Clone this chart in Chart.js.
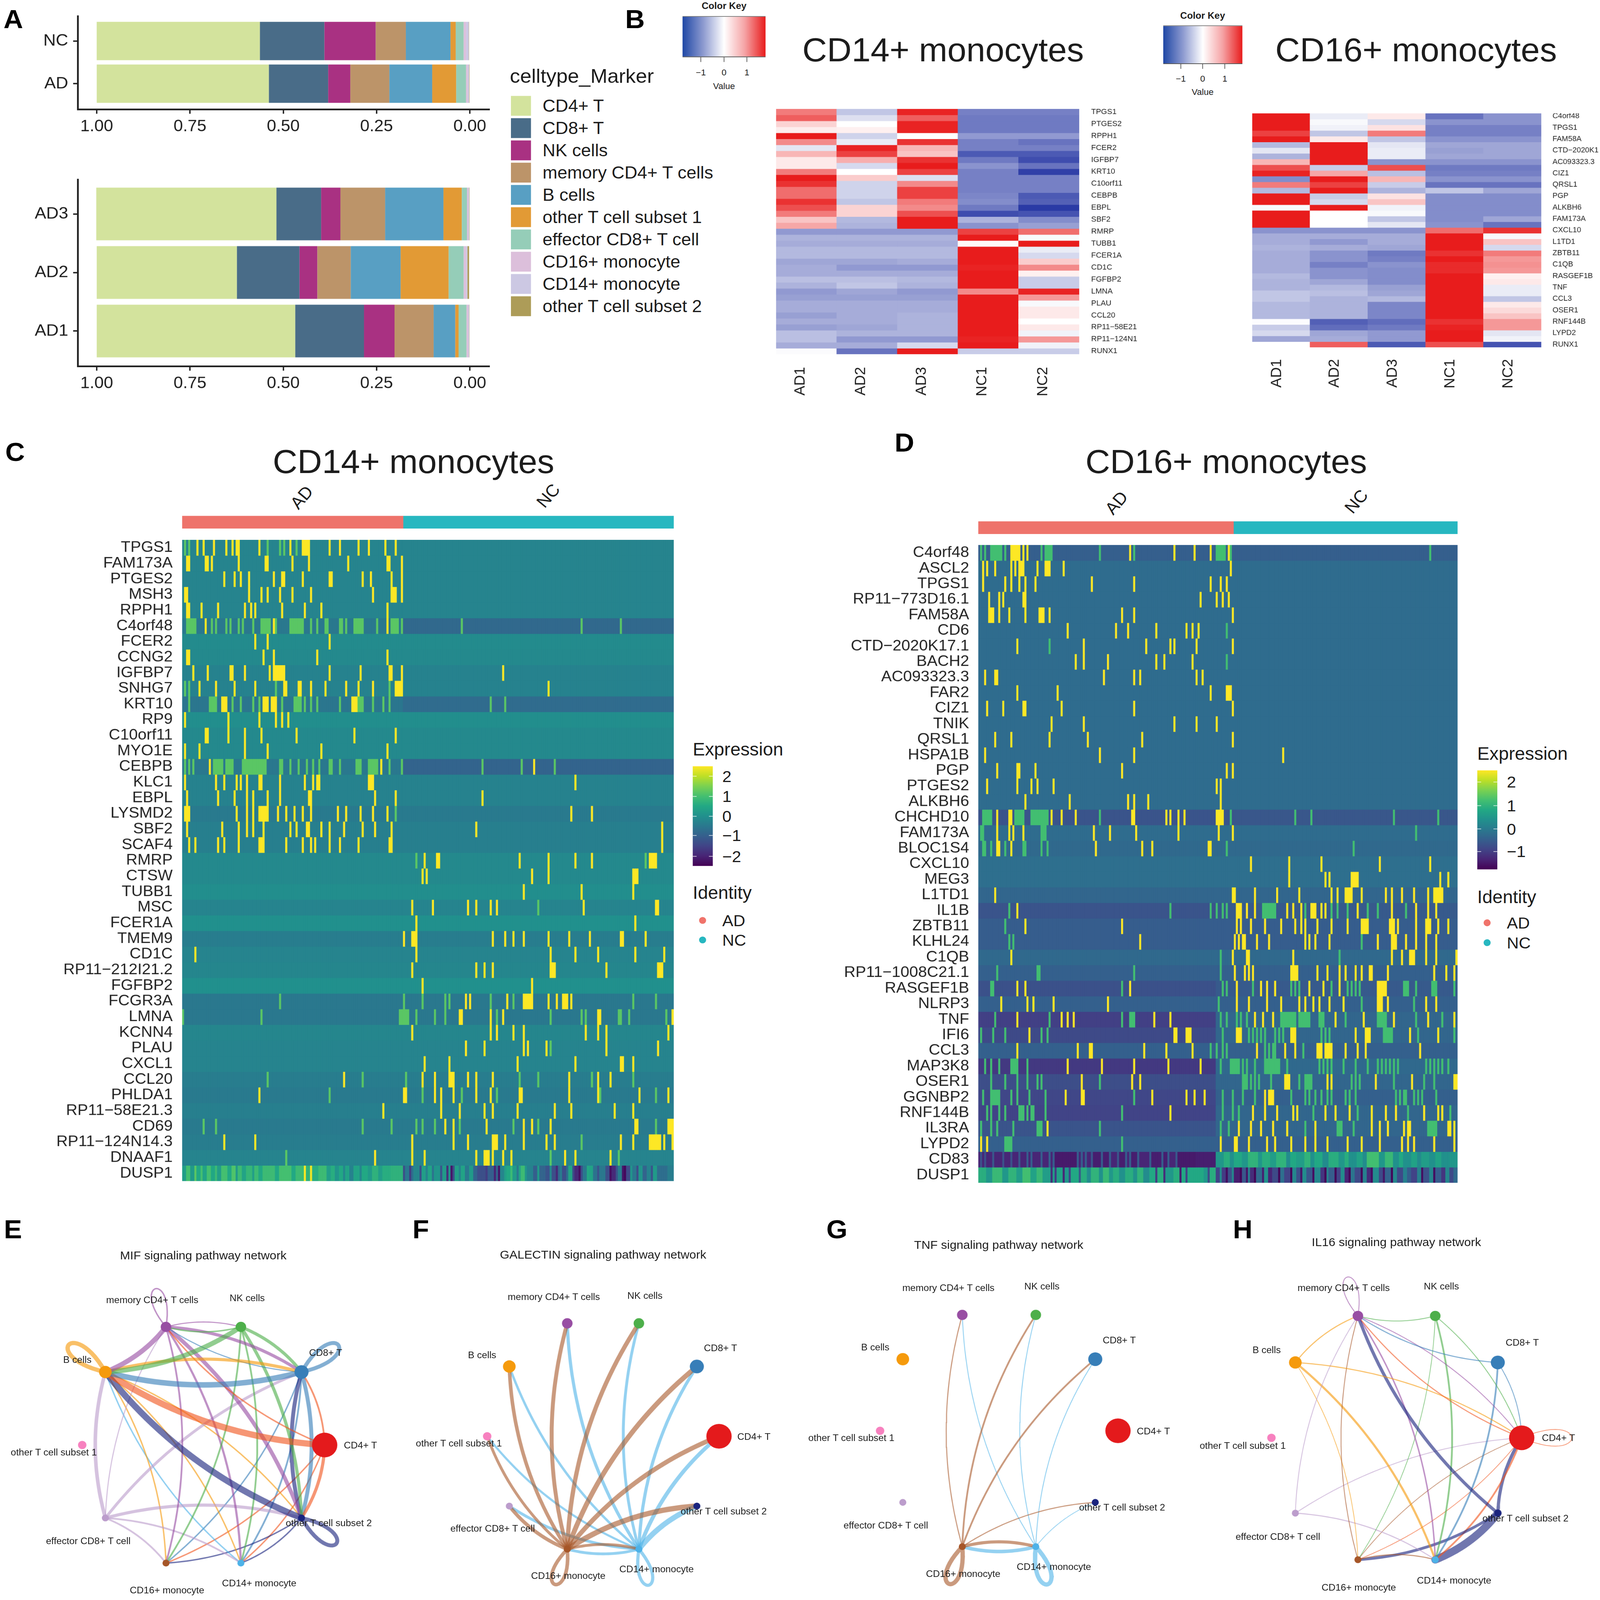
<!DOCTYPE html>
<html><head><meta charset="utf-8">
<style>
html,body{margin:0;padding:0;background:#fff;overflow:hidden}
#page{position:absolute;left:0;top:0;width:4550px;height:4671px;background:#fff;overflow:hidden;transform-origin:0 0;font-family:"Liberation Sans",Arial,sans-serif;color:#1c1c1c}
#page>div{position:absolute}
.t{white-space:nowrap;line-height:1}
</style>
<script src="https://cdn.jsdelivr.net/npm/chart.js"></script>
</head><body><div id="page"></div>
<script>
/* ---------- Panel A data ---------- */
const cellTypes=['CD4+ T','CD8+ T','NK cells','memory CD4+ T cells','B cells','other T cell subset 1','effector CD8+ T cell','CD16+ monocyte','CD14+ monocyte','other T cell subset 2'];
const cellColors=['#d3e39d','#496c88','#a93182','#bc9469','#589fc3','#e29a35','#95cdb8','#dcbfdb','#ccc8e3','#ad9c58'];
const shareNC=[43.76,17.28,13.75,8.07,11.98,1.39,2.14,.63,.76,.25];
const shareAD=[46.15,15.89,5.93,10.47,11.48,6.43,2.65,.5,.4,.1];
const shareAD3=[48.29,11.98,5.17,11.98,15.64,4.92,1.39,.4,.25,.1];
const shareAD2=[37.58,16.77,4.79,8.95,13.37,12.86,4.04,.63,.38,.63];
const shareAD1=[53.22,18.41,8.2,10.47,5.8,.88,2.14,.5,.25,.13];
const shareTicks=[1,.75,.5,.25,0];

/* ---------- Panel B data ---------- */
const sampleNames=['AD1','AD2','AD3','NC1','NC2'];
const bLeftGenes=['TPGS1','PTGES2','RPPH1','FCER2','IGFBP7','KRT10','C10orf11','CEBPB','EBPL','SBF2','RMRP','TUBB1','FCER1A','CD1C','FGFBP2','LMNA','PLAU','CCL20','RP11−58E21','RP11−124N1','RUNX1'];
const bRightGenes=['C4orf48','TPGS1','FAM58A','CTD−2020K1','AC093323.3','CIZ1','QRSL1','PGP','ALKBH6','FAM173A','CXCL10','L1TD1','ZBTB11','C1QB','RASGEF1B','TNF','CCL3','OSER1','RNF144B','LYPD2','RUNX1'];
const bLeftValues=[[.9,-.45,1.5,-1,-1],[1.1,-.25,1.1,-1.05,-1.05],[.3,0,1.5,-1.05,-1.05],[.12,.1,1.5,-1.05,-1.05],[1.8,-.35,0,-.8,-.8],[.8,-.15,1.4,-1,-1.1],[-.2,1.5,.5,-1,-1],[.5,1.3,.4,-1.3,-1.3],[.15,.55,1.4,-1.05,-1.4],[.15,-.3,1.6,-.85,-1.1],[.9,0,1.3,-1,-1.5],[1.6,.35,-.25,-1,-1],[1.4,-.35,.8,-1,-1],[1,-.35,1.3,-1,-1],[1,-.35,1.3,-.95,-1.3],[1.4,-.45,.9,-.9,-1.25],[1.2,.3,.8,-1.05,-1.6],[.9,.3,1.2,-1.4,-1.35],[.4,-.55,1.6,-.6,-.9],[.6,-.6,1.6,-.85,-.75],[-.8,-.8,-.8,1.3,1],[-.6,-.6,-.6,1.7,-.05],[-.65,-.65,-.65,.05,1.8],[-.55,-.55,-.55,1.8,-.15],[-.55,-.55,-.55,1.8,-.3],[-.7,-.7,-.65,1.8,.35],[-.65,-.8,-.8,1.5,.8],[-.65,-.65,-.65,1.7,.1],[-.5,-.5,-.55,1.8,-.4],[-.6,-.45,-.6,1.8,-.4],[-.8,-.7,-.8,.8,1.5],[-.75,-.75,-.75,1.6,.7],[-.65,-.65,-.65,1.7,-.05],[-.65,-.65,-.65,1.7,.15],[-.75,-.65,-.6,1.7,.15],[-.65,-.65,-.6,1.7,0],[-.75,-.7,-.6,1.7,.15],[-.5,-.6,-.6,1.7,-.1],[-.5,-.8,-.8,1.5,.7],[-.65,-.65,-.3,1.7,-.1],[-.03,-1.1,1.8,-.4,-.4]];
const bRightValues=[[1.7,-.15,.15,-1.1,-.85],[1.7,-.05,-.3,-.85,-.85],[1.7,-.1,.2,-1,-1],[1.3,-.45,.9,-1,-1],[1.6,.15,-.45,-.85,-.85],[-.55,1.8,-.2,-.7,-.7],[-.2,1.8,-.15,-.75,-.7],[-.6,1.8,-.15,-.7,-.7],[.5,1.6,-.85,-.85,-.85],[1.2,-.4,1.2,-1.05,-1.05],[1.5,.6,-.5,-1,-1],[-.9,1.55,.5,-.85,-.85],[.9,1.3,-.4,-1.1,-1.1],[-.55,1.7,-.6,-.45,-.7],[1.65,-.4,.2,-.9,-.9],[1.65,-.3,.4,-.9,-.9],[-.05,1.75,-.1,-.9,-.9],[1.8,0,-.05,-.9,-.9],[1.8,0,-.45,-.9,-.7],[1.8,0,-.2,-.85,-1.1],[-.85,-.85,-.85,1,1.4],[-.65,-.65,-.65,1.8,-.05],[-.65,-.8,-.65,1.8,.4],[-.6,-.65,-.7,1.7,-.3],[-.65,-.85,-1.05,1.4,.9],[-.65,-.85,-1,1.55,.7],[-.65,-1,-.85,1.45,.75],[-.65,-.85,-.9,1.45,.7],[-.55,-.85,-.9,1.8,.1],[-.6,-.7,-.9,1.8,.15],[-.6,-.55,-.75,1.8,-.15],[-.45,-.5,-.7,1.8,-.15],[-.45,-.6,-.55,1.8,-.45],[-.55,-.6,-.95,1.8,.15],[-.55,-.6,-.95,1.8,.25],[-.55,-.6,-.95,1.75,.4],[-.02,-1.25,-1.15,1.4,.7],[-.4,-1.15,-1.05,1.5,.7],[-.3,-.7,-.8,1.7,-.2],[-.7,-.65,-.8,1.7,-.1],[0,1.1,-1.3,1.2,-1.35]];

/* ---------- Panel C data ---------- */
const cGenes=['TPGS1','FAM173A','PTGES2','MSH3','RPPH1','C4orf48','FCER2','CCNG2','IGFBP7','SNHG7','KRT10','RP9','C10orf11','MYO1E','CEBPB','KLC1','EBPL','LYSMD2','SBF2','SCAF4','RMRP','CTSW','TUBB1','MSC','FCER1A','TMEM9','CD1C','RP11−212I21.2','FGFBP2','FCGR3A','LMNA','KCNN4','PLAU','CXCL1','CCL20','PHLDA1','RP11−58E21.3','CD69','RP11−124N14.3','DNAAF1','DUSP1'];
const cGroupCells=[107,131];
const cBaseAD=[-.25,-.25,-.25,-.25,-.25,-.5,-.1,-.15,-.3,-.3,-.55,-.05,-.15,-.15,-.5,-.3,-.3,-.45,-.35,-.35,-.15,-.15,-.05,-.25,0,-.4,-.25,-.2,0,-.5,-.5,-.2,-.25,-.25,-.4,-.45,-.35,-.45,-.4,-.25,.7];
const cBaseNC=[-.25,-.25,-.25,-.25,-.25,-.8,-.1,-.15,-.3,-.3,-.75,-.05,-.15,-.15,-.9,-.3,-.3,-.45,-.35,-.35,-.15,-.15,-.05,-.25,0,-.4,-.25,-.2,0,-.5,-.5,-.2,-.25,-.25,-.4,-.45,-.35,-.45,-.4,-.25,-.5];
const cHot=[[7,10,15,21,24,26,27,37,52,58,59,60,61,71,76,85,90,98,103],[2,3,11,12,14,27,40,41,53,61,80,99,100,106],[20,25,28,32,44,48,49,58,71,72,87,91,101,106],[1,2,32,38,41,47,53,62,92,101,102,103,106],[2,3,9,17,30,33,35,48,59,67,99],[11,44,99],[35,41,71],[2,3,39,44,65,99],[5,12,23,24,30,42,44,45,46,47,48,49,71,86,100,101,106,155],[8,16,25,35,49,50,56,57,62,69,79,85,92,103,104,105,106,177],[19,20,21,39,40,41,43,44,45,82,83,84],[1,22,37,45,48,51],[11,12,22,30,38,55,83,103],[1,8,30,41,67,99],[13,96,170],[1,16,20,26,28,31,37,38,47,59,63,65,66,90,91,92,190],[2,17,25,31,34,41,47,61,62,93,103,145],[1,2,3,26,31,34,37,38,39,40,41,46,50,54,58,62,75,79,86,92,99,188,198],[2,19,27,31,34,39,52,55,60,61,67,71,78,87,93,101,142,232],[3,6,17,20,27,37,38,39,50,58,62,64,71,76,85,100,101,232],[117,123,124,163,177,190,198,226,227,228,229],[116,118,169,177,218,219,220],[165,193,218],[111,121,138,142,149,152,194,229,230],[113,219],[107,111,112,113,150,156,160,165,177,187,197,212,213,224],[6,113,178,190,201,219,233],[111,142,146,150,178,179,180,205,230,231,232],[116,169],[137,139,157,165,166,167,168,169,177,181,184,185,186,188],[134,135,149,155,201,202,237],[111,149,152,160,165,195,201,205,235],[137,146,165,167,176,205,230],[117,129,162,190,212,213,218],[78,116,122,129,130,131,138,142,150,187,201,207],[37,107,108,122,125,131,142,149,163,164,187,201,221,235],[97,125,134,146,150,162,180,188,209,218],[127,131,147,165,169,178,219,220,235,236,237],[20,35,111,131,138,150,151,152,156,165,176,180,212,218,226,227,228,229,230,231,233,237],[93,111,117,142,146,147,148,150,155,159,185,190,207],[]];
const cWarm=[[1,3,41,47,49,55],[],[],[],[],[2,3,4,5,6,14,16,21,23,27,29,34,38,39,40,41,42,45,52,53,54,55,56,57,58,62,65,69,70,76,77,79,83,84,85,86,87,94,101,102,103,104,106,135,193,212],[],[],[],[1,3,45,100],[3,13,14,15,16,24,28,34,37,48,54,55,56,57,59,62,65,76,85,86,87,92,97,100,149,156],[],[],[],[1,3,5,15,16,17,18,19,21,22,23,24,29,30,31,32,33,34,35,36,37,38,39,40,47,48,52,56,60,63,66,71,72,76,84,85,86,90,91,92,93,94,100,106,145,164,180],[],[],[103],[],[],[113,224],[],[],[172],[],[],[],[],[],[47,107,116,127,129,149,160,218,229],[0,38,105,106,107,108,109,113,122,127,152,178,193,195,211,212,216,234],[],[178],[],[41,87,108,163,172,198,218],[71,116,135,152,202,229],[],[10,16,87,101,113,116,122,134,160,172,229],[193],[50,178,211],[]];
const cDusp1AD=[[2,.3],[2,1],[2,.2],[1,1.2],[2,.5],[1,1],[2,.4],[2,1],[2,.5],[1,.9],[2,.3],[3,1],[2,.5],[2,1.1],[1,.2],[2,.9],[2,.4],[3,.8],[1,.3],[2,.9],[2,.5],[6,.9],[2,.5],[6,1],[2,.5],[4,.9],[1,2.5],[2,.7],[1,2.4],[3,.6],[4,.9],[2,.3],[2,.6],[2,.1],[2,.5],[1,-.2],[2,.4],[2,-.3],[3,.4],[1,-.2],[3,.5],[2,.2],[3,.7],[2,.3],[4,.6]];
const cDusp1NC=[[1,-1.3],[2,-.5],[1,-1.6],[1,-.7],[3,-.2],[1,-1.3],[2,.3],[1,-.3],[2,.4],[1,-.6],[3,.1],[1,-1.2],[2,.2],[1,-1.8],[1,.1],[1,-2.2],[1,-1.3],[2,.3],[1,-.3],[2,.4],[2,-.5],[2,.2],[2,-.9],[4,-1.3],[1,-1.6],[3,-1],[1,-2],[1,-.9],[1,-2.2],[2,-.2],[1,.3],[2,.5],[1,.9],[2,.2],[1,-.5],[1,.4],[2,.9],[1,.1],[3,-.3],[2,-1],[1,.2],[3,-.9],[2,-1.2],[1,-.2],[2,-1.3],[1,-1.9],[1,-.8],[1,-.4],[2,-1.3],[1,-.7],[2,.4],[1,-1.4],[2,-1.9],[1,-2.3],[1,-1.3],[2,-.5],[1,.5],[2,.4],[2,-.6],[1,-1.2],[3,-.5],[2,-1.3],[1,-2.3],[2,-1.9],[1,-1.2],[2,-.4],[1,-2.2],[1,-2.4],[2,-1.4],[1,.1],[2,-.5],[1,-1.3],[2,.1],[2,-.9],[2,-.3],[1,-1.2],[2,.2],[2,-.7],[3,-.7],[3,-.4]];

/* ---------- Panel D data ---------- */
const dGenes=['C4orf48','ASCL2','TPGS1','RP11−773D16.1','FAM58A','CD6','CTD−2020K17.1','BACH2','AC093323.3','FAR2','CIZ1','TNIK','QRSL1','HSPA1B','PGP','PTGES2','ALKBH6','CHCHD10','FAM173A','BLOC1S4','CXCL10','MEG3','L1TD1','IL1B','ZBTB11','KLHL24','C1QB','RP11−1008C21.1','RASGEF1B','NLRP3','TNF','IFI6','CCL3','MAP3K8','OSER1','GGNBP2','RNF144B','IL3RA','LYPD2','CD83','DUSP1'];
const dGroupCells=[127,111];
const dBaseAD=[-.47,-.25,-.25,-.25,-.25,-.25,-.25,-.25,-.25,-.25,-.25,-.25,-.25,-.25,-.25,-.25,-.25,-.65,-.25,-.3,-.2,-.2,-.35,-.65,-.5,-.5,-.3,-.45,-.7,-.45,-.95,-.8,-.45,-1.05,-.75,-.85,-.9,-.65,-.45,-1.4,.8];
const dBaseNC=[-.47,-.25,-.25,-.25,-.25,-.25,-.25,-.25,-.25,-.25,-.25,-.25,-.25,-.25,-.25,-.25,-.25,-.6,-.25,-.3,-.2,-.2,-.35,-.55,-.5,-.5,-.3,-.45,-.55,-.45,-.35,-.35,-.45,-.3,-.35,-.45,-.35,-.35,-.45,.6,-.6];
const dHot=[[16,17,18,19,20,22,24,75,97,107,115,124],[2,4,8,16,18,20,21,22,29,33,34,35,42,125],[2,13,16,20,23,28,56,77,115,120,123],[5,10,12,22,23,110,118,121,124],[5,6,7,10,15,23,30,31,32,35,71,77,126],[44,68,74,88,103,106,109],[19,52,83,95,97,108,126],[48,52,64,88,92,106],[3,8,9,62,77,80,108,111],[19,39,115,123,124,125],[4,12,22,23,41,77,126],[36,52,97,108,118],[8,16,35,54,81,126],[3,60,77,151],[9,19,20,28,71,123,126],[4,19,26,29,37,118,120],[23,45,74,77,84,120],[9,15,16,36,41,48,76,77,93,95,99,102,118,119,120,121],[9,15,17,22,57,65,78,99,119,126],[9,10,16,58,81,86,114,115],[135,154,170,199,224],[154,172,174,185,186,187,188,229,233],[8,126,127,137,148,159,175,178,182,183,184,185,190,202,205,210,216,223,226,227,228,229,230],[19,128,129,130,133,137,153,156,160,165,166,167,170,172,188,205,217,223,227],[23,71,128,130,135,142,150,157,160,162,168,175,183,190,191,192,193,204,205,206,208,217,222,223,224,228,233],[80,127,129,131,132,138,144,162,164,167,174,198,205,206,207,212,217,222,227],[16,126,133,134,156,205,210,214,215,216,222,227,237],[127,132,134,136,155,156,157,158,168,173,179,182,187,190,194,195,203,226,232,236],[19,23,75,128,140,143,147,164,171,179,198,199,200,201,202],[11,24,27,37,64,128,134,143,150,159,162,166,169,174,181,198,199,200,203,222,227],[19,41,44,47,87,95,137,141,146,177,191,206,223,236],[25,97,98,103,104,105,128,129,130,155,156,157,187,192,193,194,214,228],[19,49,55,56,82,93,106,138,152,157,168,169,170,172,173,174,175,182,188,192,219],[44,61,77,94,110],[51,76,80,152,153,154,173,175,197,215,236,237],[43,51,52,86,103,107,112,142,144,145,146],[95,136,142,148,156,158,172,177,184,195,202,207,221,228,230],[34,129,135,140,146,153,167,195,199,203,211,213,214,233,234,236],[1,4,120,127,128,134,143,147,155,162,167,173,183,190,199,210,213,216,226,236],[],[]];
const dWarm=[[1,3,6,7,8,9,10,11,13,31,33,34,35,36,60,77,118,119,120,121,122,125,224],[],[],[],[],[123],[35],[123],[],[],[],[],[],[],[],[],[],[2,3,4,5,6,18,19,20,21,22,26,27,28,29,30,31,32,33,34,60,125,157,165,206,228],[1,2,31,32,33,217],[2,3,6,13,22,23,31,34,123,186],[],[],[],[15,95,115,118,121,123,141,142,143,144,145,146,147,162,175,178,183,193,198,212],[13],[15,17,190],[120,179],[9,29,30,77,120],[6,7,71,121,123,136,155,157,159,175,183,185,187,189,211,212,213,217,225,226,227,236],[119,190,216],[8,35,71,75,76,77,120,123,128,130,133,150,151,152,153,154,155,156,157,159,160,161,162,163,164,169,170,171,182,198,199,200,201,202,217,230],[1,7,13,31,34,121,134,136,138,140,142,147,149,151,170,172,174,201,202,203,204,205,218,236],[115,118,121,123,142,144,146,147,161],[3,6,10,16,17,18,19,24,120,125,126,127,128,129,131,133,137,142,143,144,145,146,147,148,149,153,169,171,173,175,181,187,193,198,200,202,204,206,208,222,224,226,228,230,233],[6,13,19,24,29,31,60,131,132,133,135,137,139,145,159,162,163,164,165,185,187,189,206,221,226],[2,6,7,8,9,10,16,19,25,33,77,121,126,131,137,155,162,164,167,170,173,175,182,184,187,207,209,211,212,216,218,220,227],[4,6,10,13,20,21,22,24,26,27,33,71,121,126,129,166,188,213,234],[1,6,9,17,29,30,31,60,120,124,162,178,179,180,186,223,224,225,226,227],[13,14,15,16,71],[],[]];
const dCd83AD=[[1,-1.3],[1,-.7],[1,-1.3],[1,-.7],[3,-1.3],[1,-.6],[4,-1.3],[1,-.7],[3,-1.3],[1,-.7],[3,-1.3],[1,-.6],[3,-1.3],[1,-.5],[1,-1.3],[1,-.5],[4,-1.3],[1,-.5],[3,-1.3],[1,-.4],[1,-1.3],[1,-.5],[11,-1.45],[1,-.5],[1,-1.3],[1,-.5],[1,-1.3],[1,-.5],[2,-1.3],[1,-.6],[4,-1.4],[1,-.5],[3,-1.4],[1,-.5],[3,-1.3],[1,-.6],[3,-1.4],[1,-.5],[1,-1.3],[1,-.5],[3,-1.4],[1,-.5],[5,-1.3],[1,-.5],[5,-1.4],[1,-.5],[2,-1.4],[1,-.5],[3,-1.3],[1,-.6],[9,-1.45]];
const dCd83NC=[[4,.5],[3,.9],[2,.4],[4,.8],[3,.5],[5,1],[2,.5],[4,.9],[3,.6],[5,1],[2,.3],[3,.8],[4,.6],[3,1],[2,.4],[4,.8],[3,.3],[5,.9],[3,.5],[2,.9],[4,.4],[3,.7],[2,.3],[6,1.2],[3,.5],[4,1.1],[3,.4],[2,.8],[4,.4],[3,.7],[2,.3],[4,.6],[3,.4],[3,.7],[4,.4],[6,.5]];
const dDusp1AD=[[4,.9],[3,.5],[5,1.1],[3,.5],[4,1],[3,.6],[4,1.2],[3,.7],[3,1.1],[4,.6],[1,-1.2],[1,.6],[1,-1],[3,.7],[1,-1.3],[2,.5],[1,-.9],[4,.8],[1,-.6],[3,.9],[2,.3],[4,1],[2,.4],[3,1.1],[2,.5],[3,.9],[3,.4],[4,.9],[2,.4],[3,1],[3,.3],[3,.8],[1,-1],[3,.9],[1,-1.2],[4,.5],[3,.9],[1,-1.4],[2,.8],[1,-.9],[8,.8],[2,.5],[1,-.8],[4,.9],[2,.3]];
const dDusp1NC=[[2,-.9],[1,.3],[2,-1],[1,-1.6],[2,-.7],[1,.2],[3,-1.4],[1,-1.7],[2,-.6],[1,-1.5],[1,.1],[2,-1.2],[1,-1.7],[3,-.3],[1,-1.4],[2,.4],[2,-1.3],[3,-.8],[1,-1.7],[2,-.2],[3,-.9],[1,-1.7],[2,.2],[2,-.7],[1,-1.5],[2,.3],[3,-.6],[1,-1.6],[3,.2],[2,-1.1],[1,-1.7],[1,.1],[3,-.5],[1,-1.7],[2,-.9],[2,.3],[2,-1.3],[1,-1.7],[2,-.1],[3,-.8],[1,-1.7],[2,.1],[2,-1.2],[1,-1.6],[3,.3],[2,-.8],[1,-1.5],[3,-.4],[1,-1.7],[2,.2],[3,-.8],[2,.1],[2,-.5],[3,-.9],[2,.1],[1,-1.6],[3,-.7],[2,.2],[1,-1.6],[3,-.5],[2,-1.1],[2,.2],[2,-.8],[2,-.3]];

/* ---------- Panels E-H data ---------- */
const netNames=['CD4+ T','CD8+ T','NK cells','memory CD4+ T cells','B cells','other T cell subset 1','effector CD8+ T cell','CD16+ monocyte','CD14+ monocyte','other T cell subset 2'];
const netColors=['#e41a1c','#377eb8','#4daf4a','#984ea3','#f59a0c','#f781bf','#bc9dcc','#a65628','#4db2e8','#1a237e'];
const netEdgeColors=['#f0561e','#377eb8','#4daf4a','#984ea3','#f59a0c','#f781bf','#bc9dcc','#a65628','#4db2e8','#1a237e'];
const netX=[1,.809,.309,-.309,-.809,-1,-.809,-.309,.309,.809];
const netY=[0,.618,1,1,.618,0,-.618,-1,-1,-.618];
const netSizes=[36,20,15,15,18,12,10,10,10,10];
/* [from, to, width, bend direction] */
const mifEdges=[[3,4,10],[2,4,10],[4,1,6.5],[1,4,11.5],[0,4,13],[9,4,13],[3,2,2.2],[2,3,3],[3,1,6.5],[1,3,2.2],[2,1,6.5],[0,3,3],[2,9,6.5],[2,8,3.6],[2,7,3.6],[3,9,8],[3,8,4.4],[3,7,3.6],[6,3,2.2],[6,4,7.3],[6,1,5.8],[6,9,6.5],[6,8,3.6],[6,7,3.6],[4,7,2.9],[4,8,2.9],[4,9,2.9],[8,4,2.9],[0,1,3.6,-1],[0,9,6.5],[1,9,8],[9,1,8],[9,8,2.9],[9,7,2.9],[0,7,2.9],[0,8,2.9],[1,7,2.9],[1,8,3.6]];
const galectinEdges=[[7,3,8],[7,2,8.8],[7,1,10],[7,0,9.5],[7,9,11],[7,8,5.8],[7,6,7.3],[7,4,7.3],[7,5,5.8],[8,3,6.5],[8,2,5.8],[8,1,6.5],[8,0,8],[8,9,11],[8,7,5.8],[8,6,5.8],[8,4,5],[8,5,4.4]];
const tnfEdges=[[7,3,2.2],[7,2,3.6],[7,1,3.6],[7,9,2.2],[7,8,6.5],[8,3,1.8],[8,2,1.8],[8,1,1.8],[8,9,1.5],[8,7,7.3]];
const il16Edges=[[4,3,2.2],[2,3,1.8],[1,3,2.2],[0,3,2.2],[3,0,1.8],[2,0,1.8],[1,0,1.8],[4,0,2.2],[9,3,6.5],[3,8,2.9],[7,3,1.8],[6,3,1.8],[2,7,1.5],[2,8,3.6],[4,7,1.5],[4,8,4.4],[1,8,3.6],[6,0,1.8],[6,8,2.2],[7,0,1.5],[0,7,1.5],[7,8,2.2],[9,7,5.8],[0,8,3.6],[9,8,16],[9,0,6.5]];
/* [node, width, direction in degrees, reach] */
const mifLoops=[[4,8.8,143,.38],[1,8,37,.38],[9,8,-37,.36],[3,2.9,105,.335]];
const galectinLoops=[[7,7.3,-109,.33],[8,6.5,-75,.33]];
const tnfLoops=[[7,8.8,-109,.34],[8,8.8,-73,.34]];
const il16Loops=[[3,1.8,105,.33],[0,1.5,0,.4]];

/* ---------- helpers ---------- */
const page=document.getElementById('page');
/* the window the page really gets can be smaller than the drawing: fit the whole drawing into it */
page.style.transform=`scale(${window.innerWidth/4550},${window.innerHeight/4671})`;
Chart.defaults.font.family='"Liberation Sans",Arial,sans-serif';
Chart.defaults.color='#1c1c1c';
Chart.defaults.animation=false;
function text(s,x,y,size,o={}){
  const d=document.createElement('div');d.className='t';d.textContent=s;
  const tx=o.align==='left'?'0':o.align==='right'?'-100%':'-50%';
  d.style.cssText=`left:${x}px;top:${y}px;font-size:${size}px;font-weight:${o.bold?700:400};color:${o.color||'#1c1c1c'};transform:translate(${tx},-50%)${o.rot?` rotate(${o.rot}deg)`:''};`;
  page.appendChild(d);return d;
}
function box(x,y,w,h,bg){const d=document.createElement('div');d.style.cssText=`left:${x}px;top:${y}px;width:${w}px;height:${h}px;background:${bg};`;page.appendChild(d);return d;}
function canvas(x,y,w,h){const d=document.createElement('div');d.style.cssText=`left:${x}px;top:${y}px;width:${w}px;height:${h}px;`;const c=document.createElement('canvas');c.width=w;c.height=h;c.style.cssText=`display:block;width:${w}px;height:${h}px`;d.appendChild(c);page.appendChild(d);return c;}
const base={responsive:false,maintainAspectRatio:false,devicePixelRatio:1,animation:false,events:[],layout:{padding:0},plugins:{legend:{display:false},tooltip:{enabled:false}}};
function fitScale(w,h){return s=>{if(w!=null)s.width=w;if(h!=null)s.height=h;s.paddingTop=s.paddingBottom=s.paddingLeft=s.paddingRight=0;};}
function lerpHex(a,b,f){const p=h=>[1,3,5].map(i=>parseInt(h.substr(i,2),16));const A=p(a),B=p(b);return `rgb(${A.map((v,i)=>Math.round(v+(B[i]-v)*f)).join(',')})`;}

/* viridis stops */
const viridisStops=['#440154','#482475','#414487','#355f8d','#2a788e','#21908d','#22a884','#44bf70','#7ad151','#bddf26','#fde725'];
function viridis(t){t=Math.max(0,Math.min(1,t))*10;const i=Math.min(9,Math.floor(t));return lerpHex(viridisStops[i],viridisStops[i+1],t-i);}
function blueRed(v){const f=Math.min(1,Math.abs(v)/1.55);return v<0?lerpHex('#ffffff','#2a3aa5',f):lerpHex('#ffffff','#e81c1c',f);}

/* ---------- A: stacked bars ---------- */
function stackPlot(cy,plotH,groups,shares){
  const H=plotH+81;
  /* the last cell type sits on 0.00, the first one reaches 1.00 */
  const order=cellTypes.map((_,i)=>cellTypes.length-1-i);
  new Chart(canvas(0,cy,1393,H),{type:'bar',data:{datasets:order.map(i=>({label:cellTypes[i],backgroundColor:cellColors[i],borderWidth:0,inflateAmount:0,categoryPercentage:1,barPercentage:.9,data:shares.map((s,g)=>({x:s[i]/100,y:g+1}))}))},
  options:{...base,indexAxis:'y',scales:{
    x:{type:'linear',reverse:true,stacked:true,min:-.0537,max:1.0509,position:'bottom',
      afterBuildTicks:s=>{s.ticks=shareTicks.map(v=>({value:v}));},afterFit:fitScale(null,81),
      grid:{drawOnChartArea:false,tickLength:13,lineWidth:4,color:'#222'},border:{display:true,width:5,color:'#222'},
      ticks:{autoSkip:false,maxRotation:0,padding:9,font:{size:48},callback:v=>v.toFixed(2)}},
    y:{type:'linear',reverse:true,stacked:true,offset:false,min:.4,max:groups.length+.6,position:'left',
      afterBuildTicks:s=>{s.ticks=groups.map((_,i)=>({value:i+1}));},afterFit:fitScale(221,null),
      grid:{offset:false,drawOnChartArea:false,tickLength:13,lineWidth:4,color:'#222'},border:{display:true,width:5,color:'#222'},
      ticks:{autoSkip:false,padding:14,font:{size:49},callback:v=>groups[v-1]}}
  }}});
}
stackPlot(45,274,['NC','AD'],[shareNC,shareAD]);
stackPlot(522,547,['AD3','AD2','AD1'],[shareAD3,shareAD2,shareAD1]);
text('celltype_Marker',1450,222,58,{align:'left'});
cellTypes.forEach((n,i)=>{box(1453,280+i*65,57,58,cellColors[i]);text(n,1543,309+i*65,50.5,{align:'left'});});

/* ---------- heatmap through bars ---------- */
function heat(o){
  const rows=o.cells.length,cols=o.cells[0].length;
  const labels=o.colLabels||Array.from({length:cols},(_,i)=>String(i));
  const ds=o.cells.map((row,r)=>({label:'row'+r,grouped:false,borderWidth:0,categoryPercentage:1,barPercentage:1,inflateAmount:.6,
    backgroundColor:row.map(o.color),data:row.map(()=>[r-.5,r+.5])}));
  const x=o.colLabels?{type:'category',position:'bottom',offset:true,afterFit:fitScale(null,o.colH),grid:{display:false,drawTicks:false},border:{display:false},
      ticks:{autoSkip:false,minRotation:90,maxRotation:90,padding:o.colPad,labelOffset:o.colShift,font:{size:43},callback:function(v){return this.getLabelForValue(v);}}}
    :{type:'category',display:false,offset:true};
  new Chart(canvas(o.x,o.y,o.w,o.h),{type:'bar',data:{labels,datasets:ds},options:{...base,scales:{x,
    y:{type:'linear',reverse:true,min:-.5,max:rows-.5,position:o.side,
      afterBuildTicks:s=>{s.ticks=o.cells.map((_,i)=>({value:i}));},afterFit:fitScale(o.axisW,null),
      grid:{display:false,drawTicks:false},border:{display:false},
      ticks:{autoSkip:false,padding:o.pad,font:{size:o.font},color:'#222',callback:o.label}}}}});
}
heat({x:2207,y:318,w:1036,h:846,side:'right',axisW:174,pad:34,font:22,colH:130,colPad:37,colShift:-17,colLabels:sampleNames,cells:bLeftValues,color:blueRed,label:v=>v%2===0?bLeftGenes[v/2]:''});
heat({x:3561,y:331,w:989,h:813,side:'right',axisW:167,pad:32,font:21.5,colH:130,colPad:34,colShift:-12,colLabels:sampleNames,cells:bRightValues,color:blueRed,label:v=>v%2===0?bRightGenes[v/2]:''});

function colorKey(x,y,w,h,t0,t1,t2,cx,ty,vy,ky){
  const k=box(x,y,w,h,'linear-gradient(to right,#1f47a5 0%,#8d9ad0 25%,#fff 50%,#f5a3a5 75%,#e81c1c 100%)');
  k.style.boxSizing='border-box';k.style.borderTop='2px solid #777';k.style.borderBottom='2px solid #444';
  [t0,t1,t2].forEach((tx,i)=>{box(tx-1,y+h,2,14,'#555');text(['−1','0','1'][i],tx,ty,25);});
  text('Color Key',cx,ky,27,{bold:true});text('Value',cx,vy,25);
}
colorKey(1941,47,236,120,1993,2059,2124,2059,212,252,18);
colorKey(3308,74,225,113,3358,3420,3483,3420,230,269,46);
text('CD14+ monocytes',2682,145,97);
text('CD16+ monocytes',4027,145,97);

/* ---------- C / D ---------- */
const warmLevel=1.2,hotLevel=2.5;
function expand(runs,n,fill){const out=[];runs.forEach(([c,v])=>{for(let i=0;i<c;i++)out.push(v);});while(out.length<n)out.push(fill);return out.slice(0,n);}
function buildMatrix(genes,hot,warm,baseA,baseN,cols,breakAt,special){
  return genes.map((_,r)=>{
    const br=breakAt(r),row=[];
    if(special[r]){const [a,n]=special[r];return expand(a,br,baseA[r]).concat(expand(n,cols-br,baseN[r]));}
    for(let c=0;c<cols;c++)row.push(c<br?baseA[r]:baseN[r]);
    warm[r].forEach(c=>{row[c]=warmLevel;});hot[r].forEach(c=>{row[c]=hotLevel;});
    return row;});
}
const heatCols=238;
const cMatrix=buildMatrix(cGenes,cHot,cWarm,cBaseAD,cBaseNC,heatCols,()=>cGroupCells[0],{40:[cDusp1AD,cDusp1NC]});
const dMatrix=buildMatrix(dGenes,dHot,dWarm,dBaseAD,dBaseNC,heatCols,r=>r<22?dGroupCells[0]:118,{39:[dCd83AD,dCd83NC],40:[dDusp1AD,dDusp1NC]});
heat({x:0,y:1576,w:1916,h:1872,side:'left',axisW:518,pad:27,font:45,cells:cMatrix,color:v=>viridis((v+2.5)/5),label:v=>cGenes[v]});
heat({x:2300,y:1591,w:1845,h:1862,side:'left',axisW:482,pad:26,font:45,cells:dMatrix,color:v=>viridis((v+1.75)/4.25),label:v=>dGenes[v]});

function groupBar(x,y,w,h,counts){
  new Chart(canvas(x,y,w,h),{type:'bar',data:{labels:['Identity'],datasets:['AD','NC'].map((n,i)=>({label:n,data:[counts[i]],backgroundColor:['#ee736b','#27b7c0'][i],borderWidth:0,categoryPercentage:1,barPercentage:1}))},
  options:{...base,indexAxis:'y',scales:{x:{stacked:true,display:false,min:0,max:counts[0]+counts[1]},y:{stacked:true,display:false}}}});
}
groupBar(518,1506,1398,37,cGroupCells);
groupBar(2782,1522,1363,37,[726,637]);
text('CD14+ monocytes',1176,1348,97);
text('CD16+ monocytes',3487,1348,97);
text('AD',858,1452,50,{rot:-50});text('NC',1559,1447,50,{rot:-50});
text('AD',3175,1468,50,{rot:-50});text('NC',3857,1464,50,{rot:-50});

function viridisBar(x,y,w,h,labs,lx){
  const stops=viridisStops.slice().reverse().map((c,i)=>`${c} ${i*10}%`).join(',');
  box(x,y,w,h,`linear-gradient(to bottom,${stops})`);
  labs.forEach(([t,py])=>{text(t,lx,py,47,{align:'left'});box(x,py-1,11,2,'rgba(255,255,255,.75)');box(x+w-11,py-1,11,2,'rgba(255,255,255,.75)');});
}
function exprLegend(x,eY,by,bh,labs,iY,ay,ny){
  text('Expression',x,eY,52,{align:'left'});
  viridisBar(x,by,57,bh,labs,x+84);
  text('Identity',x,iY,52,{align:'left'});
  const dot=(py,c)=>{const d=box(x+18,py-10,20,20,c);d.style.borderRadius='50%';};
  dot(ay,'#f0736b');dot(ny,'#27b7c0');
  text('AD',x+84,ay,47,{align:'left'});text('NC',x+84,ny,47,{align:'left'});
}
exprLegend(1970,2188,2237,291,[['2',2266],['1',2325],['0',2383],['−1',2439],['−2',2500]],2606,2687,2744);
exprLegend(4201,2200,2249,289,[['2',2283],['1',2352],['0',2420],['−1',2486]],2618,2694,2752);

/* ---------- E-H networks ---------- */
const arcBend=.135,arcSteps=28,loopSpread=24,netRange=1.62,edgeScale=1.4;
function rgba(hex,a){const p=i=>parseInt(hex.substr(i,2),16);return `rgba(${p(1)},${p(3)},${p(5)},${a})`;}
function edgePoints(i,j,dir){
  const ax=netX[i],ay=netY[i],bx=netX[j],by=netY[j],dx=bx-ax,dy=by-ay;
  const cx=(ax+bx)/2-dy*arcBend*dir,cy=(ay+by)/2+dx*arcBend*dir,pts=[];
  for(let k=0;k<=arcSteps;k++){const t=k/arcSteps,u=1-t;pts.push({x:u*u*ax+2*u*t*cx+t*t*bx,y:u*u*ay+2*u*t*cy+t*t*by});}
  return pts;
}
function loopPoints(n,deg,reach){
  const spread=loopSpread*Math.PI/180,a=deg*Math.PI/180,L=reach/(.75*Math.cos(spread));
  const x=netX[n],y=netY[n],c1={x:x+L*Math.cos(a-spread),y:y+L*Math.sin(a-spread)},c2={x:x+L*Math.cos(a+spread),y:y+L*Math.sin(a+spread)},pts=[];
  for(let k=0;k<=arcSteps;k++){const t=k/arcSteps,u=1-t,w0=u*u*u+t*t*t,w1=3*u*u*t,w2=3*u*t*t;pts.push({x:w0*x+w1*c1.x+w2*c2.x,y:w0*y+w1*c1.y+w2*c2.y});}
  return pts;
}
function network(cx,cy,rx,ry,edges,loops,alpha){
  const W=Math.round(rx*2*netRange),H=Math.round(ry*2*netRange);
  const line=(pts,col,w)=>({type:'scatter',showLine:true,data:pts,pointRadius:0,borderColor:rgba(col,alpha),borderWidth:w*edgeScale,tension:0,fill:false,clip:false,borderCapStyle:'round'});
  const ds=[{type:'scatter',data:netX.map((x,i)=>({x,y:netY[i]})),pointRadius:netSizes,pointBackgroundColor:netColors,pointBorderWidth:0,clip:false,showLine:false}];
  edges.forEach(([a,b,w,d])=>ds.push(line(edgePoints(a,b,d||1),netEdgeColors[a],w)));
  loops.forEach(([n,w,deg,r])=>ds.push(line(loopPoints(n,deg,r),netEdgeColors[n],w)));
  new Chart(canvas(Math.round(cx-W/2),Math.round(cy-H/2),W,H),{type:'scatter',data:{datasets:ds},options:{...base,scales:{x:{type:'linear',display:false,min:-netRange,max:netRange},y:{type:'linear',display:false,min:-netRange,max:netRange}}}});
}
network(578,4218,367,367,mifEdges,mifLoops,.62);
network(1715,4193,352,352,galectinEdges,galectinLoops,.6);
network(2840.5,4177,360.6,360.6,tnfEdges,tnfLoops,.6);
network(3971,4197,378,378,il16Edges,il16Loops,.62);

function netLabels(title,tp,pos){
  text(title,tp[0],tp[1],34.5);
  pos.forEach((p,i)=>text(netNames[i],p[0],p[1],27.3));
}
netLabels('MIF signaling pathway network',[578,3665],[[1025,4219],[926,3949],[703,3789],[433,3795],[220,3970],[153,4240],[251,4499],[475,4642],[737,4622],[935,4446]]);
netLabels('GALECTIN signaling pathway network',[1715,3662],[[2144,4194],[2049,3935],[1834,3782],[1575,3786],[1371,3956],[1305,4214],[1401,4462],[1616,4600],[1867,4581],[2058,4412]]);
netLabels('TNF signaling pathway network',[2840,3634],[[3280,4178],[3183,3912],[2963,3755],[2697,3760],[2489,3933],[2421,4198],[2519,4453],[2739,4594],[2997,4574],[3191,4401]]);
netLabels('IL16 signaling pathway network',[3971,3626],[[4432,4198],[4329,3919],[4099,3755],[3821,3760],[3602,3941],[3534,4220],[3634,4486],[3864,4634],[4135,4614],[4338,4432]]);

/* ---------- panel letters ---------- */
[['A',10,56],['B',1778,56],['C',15,1319],['D',2544,1292],['E',11,3588],['F',1173,3588],['G',2350,3588],['H',3506,3588]].forEach(([s,x,y])=>text(s,x,y,77,{bold:true,align:'left',color:'#000'}));
</script></body></html>
